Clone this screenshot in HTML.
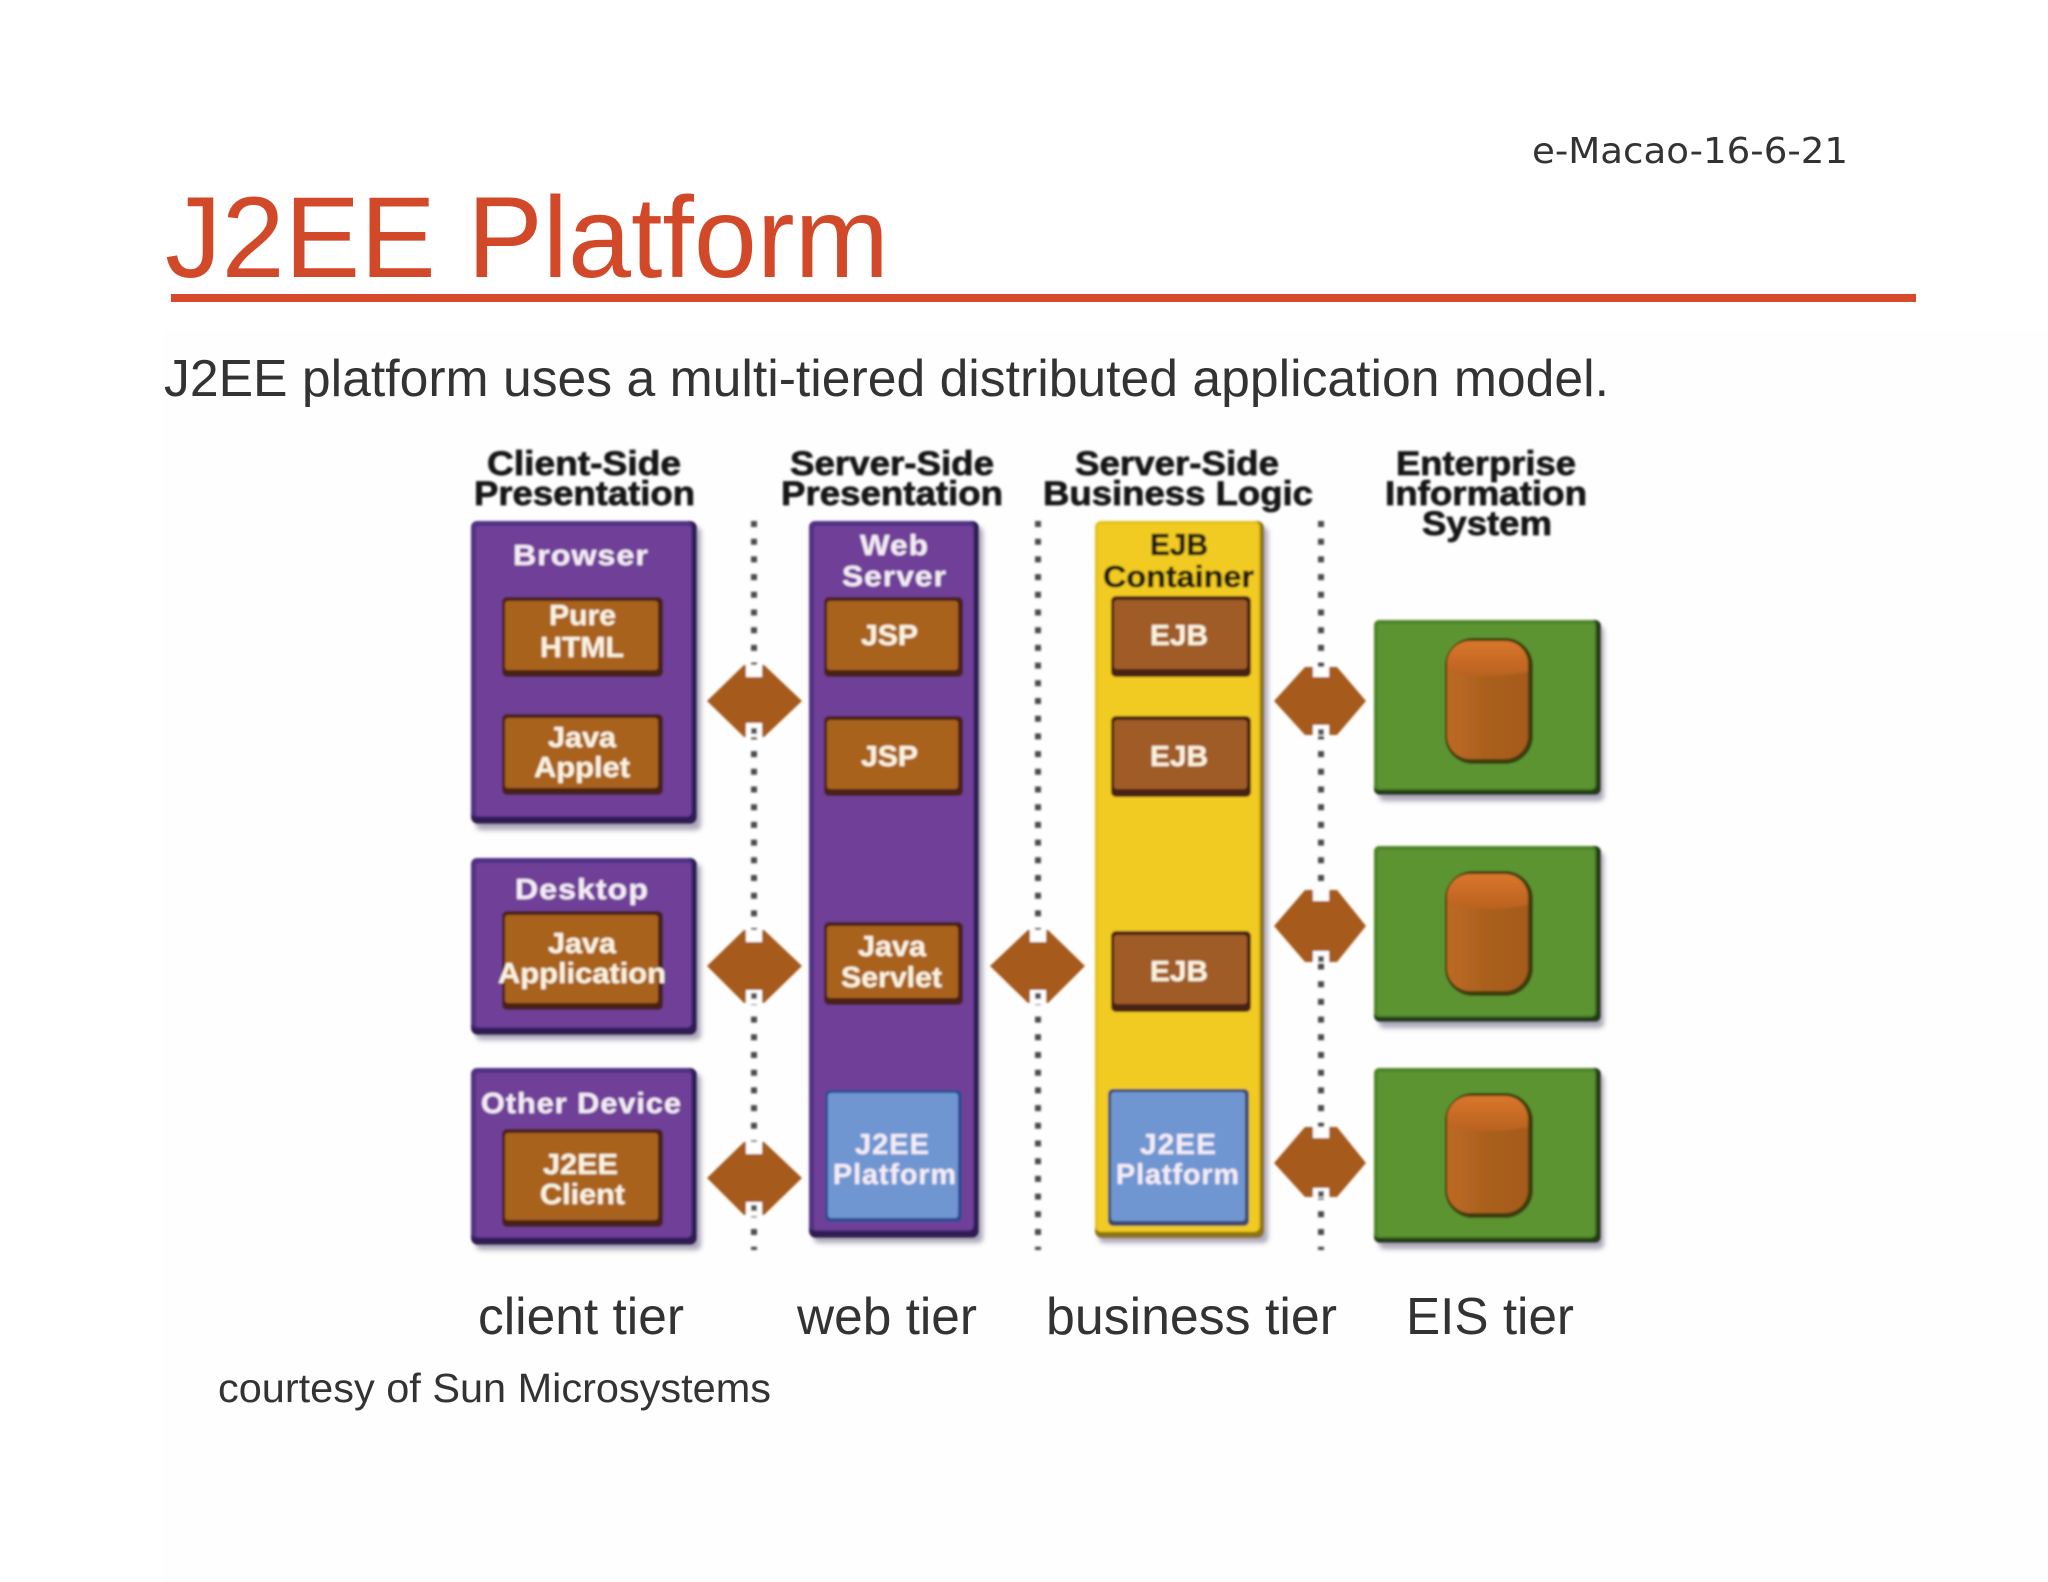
<!DOCTYPE html>
<html><head><meta charset="utf-8"><title>J2EE Platform</title>
<style>
html,body{margin:0;padding:0;background:#fff}
svg{display:block}
text{font-family:"Liberation Sans",Arial,sans-serif}
.h{font-weight:bold;font-size:34px;fill:#151515;stroke:#151515;stroke-width:.7}
.w{font-weight:bold;font-size:29px;fill:#f5ecf5;stroke:#f5ecf5;stroke-width:.2;letter-spacing:1px}
.b{font-weight:bold;font-size:29px;fill:#fbf3df;stroke:#fbf3df;stroke-width:.2}
.k{font-weight:bold;font-size:31px;fill:#1e1a08;stroke:#1e1a08;stroke-width:.6}
.t{font-size:52px;fill:#333}
</style></head><body>
<svg xmlns="http://www.w3.org/2000/svg" width="2048" height="1582" viewBox="0 0 2048 1582">
<defs>
<filter id="soft" x="-5%" y="-5%" width="110%" height="110%"><feGaussianBlur stdDeviation="1.1"/></filter>
<filter id="sh" x="-10%" y="-10%" width="120%" height="120%"><feGaussianBlur stdDeviation="2.5"/></filter>
<linearGradient id="cap" x1="0" y1="0" x2="0" y2="1"><stop offset="0" stop-color="#d9762c"/><stop offset="1" stop-color="#b9621f"/></linearGradient>
<linearGradient id="cyl" x1="0" y1="0" x2="1" y2="0"><stop offset="0" stop-color="#bd6a24"/><stop offset=".5" stop-color="#a9601e"/><stop offset="1" stop-color="#a65a1a"/></linearGradient>
</defs>
<rect width="2048" height="1582" fill="#fff"/>
<rect x="163" y="330" width="1885" height="1252" fill="#fefefe"/>

<text x="1532" y="163" font-size="36" fill="#333" style="font-family:'DejaVu Sans',sans-serif" textLength="316" lengthAdjust="spacingAndGlyphs">e-Macao-16-6-21</text>
<text x="165" y="277" font-size="115" fill="#d2492a" textLength="724" lengthAdjust="spacingAndGlyphs">J2EE Platform</text>
<rect x="171" y="294" width="1745" height="8" fill="#d6492a"/>
<text class="t" x="164" y="396" textLength="1445" lengthAdjust="spacingAndGlyphs">J2EE platform uses a multi-tiered distributed application model.</text>

<g filter="url(#soft)">
<!-- dotted lines -->
<g stroke="#4c4c4c" stroke-width="6" stroke-dasharray="6 11.7" fill="none">
<line x1="754" y1="521" x2="754" y2="1250"/>
<line x1="1038" y1="521" x2="1038" y2="1250"/>
<line x1="1321" y1="521" x2="1321" y2="1250"/>
</g>

<!-- purple boxes -->
<g fill="#9a93a8" filter="url(#sh)" opacity=".8">
<rect x="476" y="527" width="225" height="303" rx="5"/>
<rect x="476" y="864" width="225" height="176" rx="5"/>
<rect x="476" y="1074" width="225" height="176" rx="5"/>
<rect x="814" y="527" width="169" height="716" rx="5"/>
<rect x="1099" y="527" width="169" height="716" rx="5"/>
<rect x="1379" y="626" width="225" height="175" rx="5"/>
<rect x="1379" y="852" width="225" height="176" rx="5"/>
<rect x="1379" y="1074" width="225" height="175" rx="5"/>
</g>
<g fill="#2e1d52">
<rect x="471" y="521" width="226" height="303" rx="7"/>
<rect x="471" y="858" width="226" height="177" rx="7"/>
<rect x="471" y="1068" width="226" height="177" rx="7"/>
<rect x="809" y="521" width="170" height="717" rx="7"/>
</g>
<g fill="#513384">
<rect x="471" y="521" width="221" height="296" rx="6"/>
<rect x="471" y="858" width="221" height="170" rx="6"/>
<rect x="471" y="1068" width="221" height="170" rx="6"/>
<rect x="809" y="521" width="165" height="710" rx="6"/>
</g>
<g fill="#6f3f99">
<rect x="476" y="526" width="215" height="290" rx="3"/>
<rect x="476" y="863" width="215" height="164" rx="3"/>
<rect x="476" y="1073" width="215" height="164" rx="3"/>
<rect x="814" y="526" width="159" height="704" rx="3"/>
</g>

<!-- yellow column -->
<rect x="1095" y="521" width="169" height="717" rx="7" fill="#8c7414"/>
<rect x="1095" y="521" width="165" height="711" rx="6" fill="#e6c01a"/>
<rect x="1098" y="524" width="160" height="707" rx="3" fill="#f2cb20"/>

<!-- green boxes -->
<g fill="#233d14">
<rect x="1374" y="620" width="227" height="175" rx="6"/>
<rect x="1374" y="846" width="227" height="176" rx="6"/>
<rect x="1374" y="1068" width="227" height="175" rx="6"/>
</g>
<g fill="#4f8529">
<rect x="1374" y="620" width="222" height="170" rx="5"/>
<rect x="1374" y="846" width="222" height="171" rx="5"/>
<rect x="1374" y="1068" width="222" height="170" rx="5"/>
</g>
<g fill="#5b9430">
<rect x="1378" y="624" width="216" height="164" rx="2"/>
<rect x="1378" y="850" width="216" height="165" rx="2"/>
<rect x="1378" y="1072" width="216" height="164" rx="2"/>
</g>

<!-- cylinders -->
<g fill="#3c3d0e">
<rect x="1445" y="638" width="88" height="126" rx="28"/>
<rect x="1445" y="871" width="88" height="125" rx="28"/>
<rect x="1445" y="1093" width="88" height="125" rx="28"/>
</g>
<g fill="url(#cyl)">
<rect x="1447" y="641" width="81" height="118" rx="23"/>
<rect x="1447" y="874" width="81" height="117" rx="23"/>
<rect x="1447" y="1096" width="81" height="117" rx="23"/>
</g>
<g fill="url(#cap)">
<path d="M1447 664a23 23 0 0 1 23-23h35a23 23 0 0 1 23 23v8q-40 8-81 0z"/>
<path d="M1447 897a23 23 0 0 1 23-23h35a23 23 0 0 1 23 23v8q-40 8-81 0z"/>
<path d="M1447 1119a23 23 0 0 1 23-23h35a23 23 0 0 1 23 23v8q-40 8-81 0z"/>
</g>

<!-- brown boxes -->
<g fill="#4a2213">
<rect x="502" y="597" width="161" height="80" rx="5"/>
<rect x="502" y="714" width="161" height="81" rx="5"/>
<rect x="502" y="911" width="161" height="99" rx="5"/>
<rect x="502" y="1129" width="161" height="98" rx="5"/>
<rect x="824" y="597" width="139" height="80" rx="5"/>
<rect x="824" y="716" width="139" height="80" rx="5"/>
<rect x="824" y="922" width="139" height="83" rx="5"/>
<rect x="1111" y="596" width="140" height="81" rx="5"/>
<rect x="1111" y="716" width="140" height="81" rx="5"/>
<rect x="1111" y="931" width="140" height="81" rx="5"/>
</g>
<g fill="#a9621f">
<rect x="505" y="601" width="153" height="69" rx="3"/>
<rect x="505" y="718" width="153" height="70" rx="3"/>
<rect x="505" y="915" width="153" height="88" rx="3"/>
<rect x="505" y="1133" width="153" height="87" rx="3"/>
<rect x="827" y="601" width="131" height="69" rx="3"/>
<rect x="827" y="720" width="131" height="69" rx="3"/>
<rect x="827" y="926" width="131" height="72" rx="3"/>
</g>
<g fill="#a05c28">
<rect x="1114" y="600" width="133" height="69" rx="3"/>
<rect x="1114" y="720" width="133" height="69" rx="3"/>
<rect x="1114" y="935" width="133" height="69" rx="3"/>
</g>

<!-- blue boxes -->
<rect x="825" y="1090" width="137" height="132" rx="5" fill="#2f4c94"/>
<rect x="828" y="1093" width="130" height="125" rx="3" fill="#6f96d2"/>
<rect x="1108" y="1089" width="141" height="137" rx="5" fill="#3c4a70"/>
<rect x="1111" y="1092" width="134" height="129" rx="3" fill="#6f96d2"/>

<!-- diamonds -->
<g fill="#a65a1c">
<polygon points="707,701 744,665 764,665 802,701 764,737 744,737"/>
<polygon points="707,966 744,930 764,930 802,966 764,1003 744,1003"/>
<polygon points="707,1178 744,1142 764,1142 802,1178 764,1215 744,1215"/>
<polygon points="990,966 1028,930 1048,930 1085,966 1048,1003 1028,1003"/>
<polygon points="1274,701 1305,667 1337,667 1366,701 1337,735 1305,735"/>
<polygon points="1274,926 1305,890 1337,890 1366,926 1337,962 1305,962"/>
<polygon points="1274,1163 1305,1127 1337,1127 1366,1163 1337,1197 1305,1197"/>
</g>
<g fill="#fff">
<rect x="746" y="665" width="16" height="12"/><rect x="746" y="723" width="16" height="14"/>
<rect x="746" y="930" width="16" height="12"/><rect x="746" y="990" width="16" height="14"/>
<rect x="746" y="1142" width="16" height="12"/><rect x="746" y="1202" width="16" height="14"/>
<rect x="1030" y="930" width="16" height="12"/><rect x="1030" y="990" width="16" height="14"/>
<rect x="1313" y="667" width="16" height="10"/><rect x="1313" y="725" width="16" height="11"/>
<rect x="1313" y="890" width="16" height="11"/><rect x="1313" y="951" width="16" height="12"/>
<rect x="1313" y="1127" width="16" height="11"/><rect x="1313" y="1188" width="16" height="10"/>
</g>
<g fill="#555">
<rect x="751" y="728" width="6" height="6"/><rect x="751" y="993" width="6" height="6"/><rect x="751" y="1205" width="6" height="6"/>
<rect x="1035" y="993" width="6" height="6"/>
<rect x="1318" y="729" width="6" height="6"/><rect x="1318" y="956" width="6" height="6"/><rect x="1318" y="1191" width="6" height="6"/>
</g>

<!-- headers -->
<text class="h" x="487" y="475" textLength="194" lengthAdjust="spacingAndGlyphs">Client-Side</text>
<text class="h" x="474" y="505" textLength="221" lengthAdjust="spacingAndGlyphs">Presentation</text>
<text class="h" x="790" y="475" textLength="204" lengthAdjust="spacingAndGlyphs">Server-Side</text>
<text class="h" x="781" y="505" textLength="222" lengthAdjust="spacingAndGlyphs">Presentation</text>
<text class="h" x="1075" y="475" textLength="204" lengthAdjust="spacingAndGlyphs">Server-Side</text>
<text class="h" x="1043" y="505" textLength="270" lengthAdjust="spacingAndGlyphs">Business Logic</text>
<text class="h" x="1396" y="475" textLength="180" lengthAdjust="spacingAndGlyphs">Enterprise</text>
<text class="h" x="1385" y="505" textLength="202" lengthAdjust="spacingAndGlyphs">Information</text>
<text class="h" x="1422" y="535" textLength="130" lengthAdjust="spacingAndGlyphs">System</text>

<!-- purple labels -->
<text class="w" x="513" y="565" textLength="136" lengthAdjust="spacingAndGlyphs">Browser</text>
<text class="w" x="515" y="899" textLength="134" lengthAdjust="spacingAndGlyphs">Desktop</text>
<text class="w" x="481" y="1113" textLength="201" lengthAdjust="spacingAndGlyphs">Other Device</text>
<text class="w" x="860" y="555" textLength="69" lengthAdjust="spacingAndGlyphs">Web</text>
<text class="w" x="842" y="586" textLength="105" lengthAdjust="spacingAndGlyphs">Server</text>

<!-- brown labels -->
<text class="b" x="549" y="625" textLength="67" lengthAdjust="spacingAndGlyphs">Pure</text>
<text class="b" x="540" y="657" textLength="84" lengthAdjust="spacingAndGlyphs">HTML</text>
<text class="b" x="548" y="747" textLength="68" lengthAdjust="spacingAndGlyphs">Java</text>
<text class="b" x="534" y="777" textLength="96" lengthAdjust="spacingAndGlyphs">Applet</text>
<text class="b" x="548" y="953" textLength="68" lengthAdjust="spacingAndGlyphs">Java</text>
<text class="b" x="498" y="983" textLength="168" lengthAdjust="spacingAndGlyphs">Application</text>
<text class="b" x="543" y="1174" textLength="75" lengthAdjust="spacingAndGlyphs">J2EE</text>
<text class="b" x="540" y="1204" textLength="85" lengthAdjust="spacingAndGlyphs">Client</text>
<text class="b" x="861" y="645" textLength="57" lengthAdjust="spacingAndGlyphs">JSP</text>
<text class="b" x="861" y="766" textLength="57" lengthAdjust="spacingAndGlyphs">JSP</text>
<text class="b" x="858" y="956" textLength="68" lengthAdjust="spacingAndGlyphs">Java</text>
<text class="b" x="841" y="987" textLength="101" lengthAdjust="spacingAndGlyphs">Servlet</text>
<text class="b" x="1150" y="645" textLength="58" lengthAdjust="spacingAndGlyphs">EJB</text>
<text class="b" x="1150" y="766" textLength="58" lengthAdjust="spacingAndGlyphs">EJB</text>
<text class="b" x="1150" y="981" textLength="58" lengthAdjust="spacingAndGlyphs">EJB</text>

<!-- yellow labels -->
<text class="k" x="1150" y="555" textLength="58" lengthAdjust="spacingAndGlyphs">EJB</text>
<text class="k" x="1103" y="587" textLength="151" lengthAdjust="spacingAndGlyphs">Container</text>

<!-- blue labels -->
<text class="w" x="855" y="1154" textLength="75" lengthAdjust="spacingAndGlyphs">J2EE</text>
<text class="w" x="833" y="1184" textLength="124" lengthAdjust="spacingAndGlyphs">Platform</text>
<text class="w" x="1140" y="1154" textLength="77" lengthAdjust="spacingAndGlyphs">J2EE</text>
<text class="w" x="1116" y="1184" textLength="124" lengthAdjust="spacingAndGlyphs">Platform</text>
</g>

<!-- tier labels -->
<text class="t" x="478" y="1334" textLength="206" lengthAdjust="spacingAndGlyphs">client tier</text>
<text class="t" x="797" y="1334" textLength="180" lengthAdjust="spacingAndGlyphs">web tier</text>
<text class="t" x="1046" y="1334" textLength="291" lengthAdjust="spacingAndGlyphs">business tier</text>
<text class="t" x="1406" y="1334" textLength="168" lengthAdjust="spacingAndGlyphs">EIS tier</text>
<text x="218" y="1402" font-size="41" fill="#333" textLength="553" lengthAdjust="spacingAndGlyphs">courtesy of Sun Microsystems</text>
</svg>
</body></html>
